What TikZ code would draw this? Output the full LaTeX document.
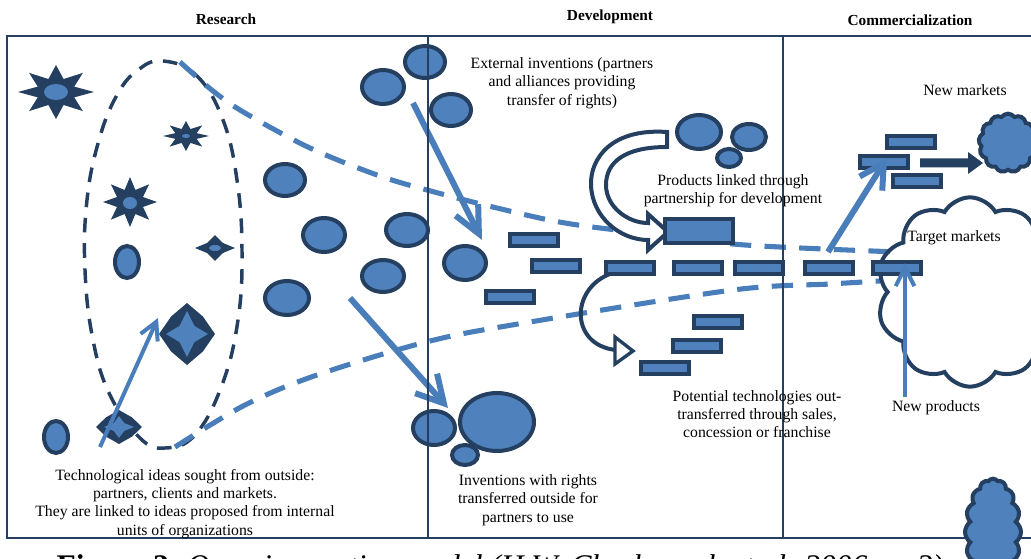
\documentclass[tikz,border=0pt]{standalone}
\usepackage{fontspec}
\setmainfont{Liberation Serif}
\usetikzlibrary{arrows.meta,shapes.symbols,shapes.geometric}
\definecolor{navy}{HTML}{243F60}
\definecolor{fillb}{HTML}{4F81BD}
\definecolor{arrb}{HTML}{4A7EBB}
\tikzset{
  ell/.style={draw=navy, fill=fillb, line width=3pt},
  barbox/.style={draw=navy, fill=fillb, line width=3.3pt, minimum width=35.7pt, minimum height=8.7pt, inner sep=0pt, outer sep=0pt},
  funnel/.style={draw=arrb, line width=3.8pt, dash pattern=on 16pt off 10pt},
  egg/.style={draw=navy, line width=2.6pt, dash pattern=on 11pt off 8pt},
  bigarrow/.style={draw=arrb, line width=4.5pt},
  lbl/.style={font=\fontsize{11.8}{13.7}\selectfont, align=center, inner sep=0pt},
  hdr/.style={font=\bfseries\fontsize{11.5}{13}\selectfont, inner sep=0pt},
  frame/.style={draw=navy, line width=2pt},
}
% 8-point star: cx cy rx ry ratio style
\newcommand\polyeight[6]{%
  \fill[#6] plot[domain=0:15, samples=16, variable=\k]
    ({#1+(#3)*(1-(1-#5)*mod(round(\k),2))*cos(\k*22.5)},
     {#2+(#4)*(1-(1-#5)*mod(round(\k),2))*sin(\k*22.5)}) -- cycle;}
% 4-point star
\newcommand\polyfour[6]{%
  \fill[#6] plot[domain=0:7, samples=8, variable=\k]
    ({#1+(#3)*(1-(1-#5)*mod(round(\k),2))*cos(\k*45)},
     {#2+(#4)*(1-(1-#5)*mod(round(\k),2))*sin(\k*45)}) -- cycle;}
\begin{document}
\begin{tikzpicture}[x=0.75pt,y=-0.75pt]
\useasboundingbox (0,0) rectangle (1031,559);
\clip (0,0) rectangle (1031,559);

% headers
\node[hdr] (hres) at (226,19) {Research};
\node[hdr] (hdev) at (610,17) {Development};
\node[hdr] (hcom) at (910,20) {Commercialization};

% dashed egg
\draw[egg] plot[smooth cycle, tension=0.7] coordinates {(163,61) (197,76) (223,120) (237,180) (242,250) (238,320) (222,385) (195,435) (165,448) (140,438) (110,395) (93,340) (85,270) (87,200) (99,140) (117,95) (138,70)};

% funnel dashed lines
\draw[funnel] plot[smooth, tension=0.55] coordinates {(180,62) (213,91) (245,113) (310,148) (377,175) (427,190) (497,208) (565,223) (650,234) (745,245) (898,252)};
\draw[funnel] plot[smooth, tension=0.55] coordinates {(175,447) (245,405) (317,375) (430,341) (530,322) (733,290) (830,284) (880,281)};

% stars
\polyeight{56}{92}{38}{27}{0.52}{navy}
\fill[fillb] (56,92) ellipse [x radius=12, y radius=8];
\polyeight{186}{136}{23}{15}{0.5}{navy}
\fill[fillb] (186,136) ellipse [x radius=4, y radius=2];
\polyeight{130}{202}{27}{25}{0.52}{navy}
\fill[fillb] (130,203) ellipse [x radius=7, y radius=6];
\polyfour{215}{248}{20}{13}{0.55}{navy}
\fill[fillb] (215,248) ellipse [x radius=6, y radius=3];
\polyfour{187}{334}{28}{31}{0.8}{navy}
\polyfour{187}{334}{21}{23}{0.5}{fillb}
\polyfour{119}{427}{23}{17}{0.8}{navy}
\polyfour{119}{427}{15}{11}{0.5}{fillb}

% ellipses
\draw[ell] (127,262) ellipse [x radius=12, y radius=16];
\draw[ell] (56,437) ellipse [x radius=12, y radius=16];
\draw[ell] (425,62) ellipse [x radius=20, y radius=16];
\draw[ell] (383,87) ellipse [x radius=21, y radius=17];
\draw[ell] (285,180) ellipse [x radius=20, y radius=16];
\draw[ell] (324,235) ellipse [x radius=21, y radius=17];
\draw[ell] (407,230) ellipse [x radius=21, y radius=16];
\draw[ell] (383,276) ellipse [x radius=21, y radius=16];
\draw[ell] (287,298) ellipse [x radius=22, y radius=17];
\draw[ell] (451,110) ellipse [x radius=20, y radius=16];
\draw[ell] (465,263) ellipse [x radius=21, y radius=17];
\draw[ell] (434,428) ellipse [x radius=21, y radius=17];
\draw[ell] (497,422) ellipse [x radius=37, y radius=29];
\draw[ell] (465,455) ellipse [x radius=13, y radius=10];
\draw[ell] (699,132) ellipse [x radius=22, y radius=17];
\draw[ell] (749,137) ellipse [x radius=17, y radius=13];
\draw[ell] (729,158) ellipse [x radius=12, y radius=9];

% hollow curved block arrow
\draw[navy, line width=3pt, fill=white, line join=miter]
  (667,132) .. controls (610,128) and (590,160) .. (591,185)
  .. controls (592,217) and (620,240) .. (648,240)
  -- (648,250) -- (668,232) -- (648,214) -- (648,223)
  .. controls (628,223) and (606,207) .. (606,185)
  .. controls (606,162) and (625,147) .. (667,147) -- cycle;

% product box
\node[draw=navy, fill=fillb, line width=3pt, minimum width=51pt, minimum height=18pt, inner sep=0pt] (prod) at (699,231) {};

% thin curved arrow
\draw[navy, line width=3pt] (616,272) .. controls (570,284) and (568,345) .. (616,350);
\draw[navy, line width=2.5pt, fill=white, line join=miter] (615,337) -- (633,351) -- (615,364) -- cycle;

% target markets cloud (outline)
\node[cloud, cloud puffs=10, cloud puff arc=120, aspect=1, draw=navy, line width=3pt, minimum width=140pt, minimum height=142pt] (tmcloud) at (970,292) {};

% bars
\foreach \bx/\by [count=\n] in {534/240,556/266,630/268,698/268,759/268,829/268,897/268,510/297,718/322,697/346,665/368,911/142,884/162,917/181}
  \node[barbox] (b\n) at (\bx,\by) {};

% dark block arrow
\fill[navy] (920,158.5) -- (968,158.5) -- (968,152) -- (983,163) -- (968,174) -- (968,167.5) -- (920,167.5) -- cycle;

% new markets cloud
\node[cloud, cloud puffs=13, cloud puff arc=110, aspect=1, draw=navy, fill=fillb, line width=3pt, minimum width=44pt, minimum height=44pt, inner sep=0pt] (nmcloud) at (1008,143) {};

% light arrows
\coordinate (a1s) at (413,103); \coordinate (a1e) at (482,240);
\coordinate (a2s) at (350,298); \coordinate (a2e) at (448,408);
\coordinate (a3s) at (100,447); \coordinate (a3e) at (158,318);
\coordinate (a4s) at (828,252); \coordinate (a4e) at (887,158);
\coordinate (a5s) at (905,397); \coordinate (a5e) at (905,263);
\draw[bigarrow, -{Straight Barb[length=20pt,width=19pt]}] (a1s) -- (a1e);
\draw[bigarrow, -{Straight Barb[length=20pt,width=22pt]}] (a2s) -- (a2e);
\draw[bigarrow, line width=3pt, -{Straight Barb[length=13pt,width=14pt]}] (a3s) -- (a3e);
\draw[bigarrow, -{Straight Barb[length=18pt,width=20pt]}] (a4s) -- (a4e);
\draw[bigarrow, line width=3pt, -{Straight Barb[length=14pt,width=14pt]}] (a5s) -- (a5e);

% frame
\draw[frame] (7,36) rectangle (1045,538);
\draw[frame] (428,36) -- (428,538);
\draw[frame] (783,36) -- (783,538);

% bottom right cloud
\node[cloud, cloud puffs=16, cloud puff arc=110, aspect=0.5, draw=navy, fill=fillb, line width=3pt, minimum width=42pt, minimum height=80pt, inner sep=0pt] (bcloud) at (993,532) {};

% labels
\node[lbl] (t1) at (562,83) {External inventions (partners\\and alliances providing\\transfer of rights)};
\node[lbl] (t2) at (733,191) {Products linked through\\partnership for development};
\node[lbl] (t3) at (757,414) {Potential technologies out-\\transferred through sales,\\concession or franchise};
\node[lbl] (t4) at (528,500) {Inventions with rights\\transferred outside for\\partners to use};
\node[lbl] (t5) at (185,504) {Technological ideas sought from outside:\\partners, clients and markets.\\They are linked to ideas proposed from internal\\units of organizations};
\node[lbl] (t6) at (965,90) {New markets};
\node[lbl] (t7) at (954,238) {Target markets};
\node[lbl] (t8) at (936,408) {New products};

% caption (cut off at the bottom edge, as in the reference)
\node[font=\fontsize{23.6}{28}\selectfont, anchor=base, inner sep=0pt] (cap) at (500,576) {\textbf{Figure 2.} \textit{Open innovation model (H.W. Chesbrough et al. 2006, p. 3)}};
\end{tikzpicture}
\end{document}
